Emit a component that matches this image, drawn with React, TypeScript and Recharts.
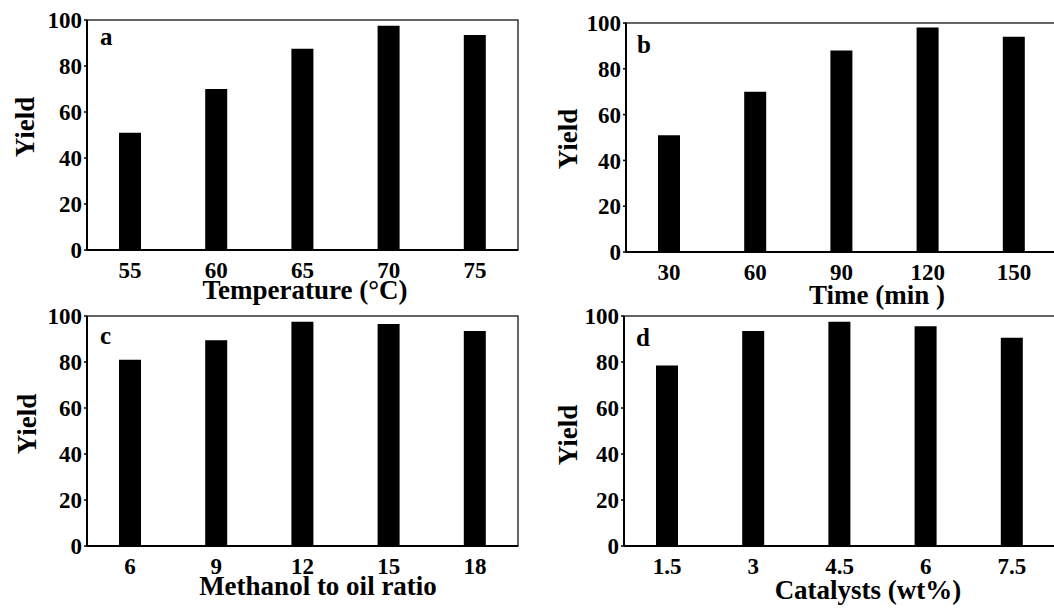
import React from 'react';
import { Bar, BarChart, ReferenceArea, XAxis, YAxis } from 'recharts';

const temperatures = ['55', '60', '65', '70', '75'];
const tempYield = [51, 70, 87.5, 97.5, 93.5];

const times = ['30', '60', '90', '120', '150'];
const timeYield = [51, 70, 88, 98, 94];

const ratios = ['6', '9', '12', '15', '18'];
const ratioYield = [81, 89.5, 97.5, 96.5, 93.5];

const catalysts = ['1.5', '3', '4.5', '6', '7.5'];
const catalystYield = [78.5, 93.5, 97.5, 95.5, 90.5];

const yTicks = [0, 20, 40, 60, 80, 100];

const FONT = '"Liberation Serif", "Times New Roman", serif';

type PanelProps = {
  cats: string[];
  values: number[];
  letter: string;
  title: string;
  left: number;
  top: number;
  width: number;
  height: number;
  margin: { top: number; right: number; left: number; bottom: number };
  yAxisWidth: number;
  xAxisHeight: number;
  yLabel: { x: number; y: number };
  xLabel: { x: number; y: number };
  letterPos: { dx: number; dy: number };
};

const Panel: React.FC<PanelProps> = (p) => {
  const data = p.cats.map((c, i) => ({ cat: c, y: p.values[i] }));
  return (
    <div style={{ position: 'absolute', left: p.left, top: p.top }}>
      <BarChart width={p.width} height={p.height} data={data} margin={p.margin}>
        <ReferenceArea
          y1={0}
          y2={100}
          fill="none"
          fillOpacity={0}
          stroke="#333"
          strokeWidth={1.5}
          label={(lp: any) => {
            const vb = lp.viewBox || { x: 0, y: 0 };
            return (
              <text x={vb.x + p.letterPos.dx} y={vb.y + p.letterPos.dy} fontFamily={FONT} fontWeight={700} fontSize={25} fill="#000">
                {p.letter}
              </text>
            );
          }}
        />
        <XAxis
          dataKey="cat"
          interval={0}
          height={p.xAxisHeight}
          tickSize={0}
          tickLine={false}
          tickMargin={12}
          axisLine={{ stroke: '#000', strokeWidth: 2 }}
          tick={{ fill: '#000', fontSize: 23, fontWeight: 700, fontFamily: FONT }}
          label={() => (
            <text x={p.xLabel.x} y={p.xLabel.y} textAnchor="middle" fontFamily={FONT} fontWeight={700} fontSize={27} fill="#000">
              {p.title}
            </text>
          )}
        />
        <YAxis
          domain={[0, 100]}
          ticks={yTicks}
          width={p.yAxisWidth}
          tickSize={3}
          tickMargin={2}
          tickLine={{ stroke: '#000', strokeWidth: 1.5 }}
          axisLine={{ stroke: '#000', strokeWidth: 2 }}
          tick={{ fill: '#000', fontSize: 23, fontWeight: 700, fontFamily: FONT }}
          label={() => (
            <text
              x={p.yLabel.x}
              y={p.yLabel.y}
              transform={`rotate(-90, ${p.yLabel.x}, ${p.yLabel.y})`}
              textAnchor="middle"
              fontFamily={FONT}
              fontWeight={700}
              fontSize={27}
              fill="#000"
            >
              Yield
            </text>
          )}
        />
        <Bar dataKey="y" fill="#000" barSize={22} isAnimationActive={false} />
      </BarChart>
    </div>
  );
};

export default function App() {
  return (
    <div style={{ position: 'absolute', left: 0, top: 0, width: 1054, height: 609, overflow: 'hidden', background: '#fff' }}>
      <Panel
        cats={temperatures}
        values={tempYield}
        letter="a"
        title="Temperature (°C)"
        left={0}
        top={0}
        width={530}
        height={315}
        margin={{ top: 20, right: 12, left: 0, bottom: 0 }}
        yAxisWidth={87}
        xAxisHeight={65}
        yLabel={{ x: 34, y: 127 }}
        xLabel={{ x: 305, y: 299 }}
        letterPos={{ dx: 13, dy: 25 }}
      />
      <Panel
        cats={times}
        values={timeYield}
        letter="b"
        title="Time (min )"
        left={524}
        top={0}
        width={540}
        height={315}
        margin={{ top: 23, right: 7, left: 0, bottom: 0 }}
        yAxisWidth={102}
        xAxisHeight={63}
        yLabel={{ x: 53, y: 139 }}
        xLabel={{ x: 353, y: 304 }}
        letterPos={{ dx: 11, dy: 30 }}
      />
      <Panel
        cats={ratios}
        values={ratioYield}
        letter="c"
        title="Methanol to oil ratio"
        left={0}
        top={300}
        width={530}
        height={309}
        margin={{ top: 16, right: 12, left: 0, bottom: 0 }}
        yAxisWidth={87}
        xAxisHeight={63}
        yLabel={{ x: 36, y: 124 }}
        xLabel={{ x: 318, y: 295 }}
        letterPos={{ dx: 13, dy: 28 }}
      />
      <Panel
        cats={catalysts}
        values={catalystYield}
        letter="d"
        title="Catalysts (wt%)"
        left={524}
        top={300}
        width={540}
        height={309}
        margin={{ top: 16, right: 9, left: 0, bottom: 0 }}
        yAxisWidth={100}
        xAxisHeight={63}
        yLabel={{ x: 53, y: 135 }}
        xLabel={{ x: 344, y: 299 }}
        letterPos={{ dx: 12, dy: 30 }}
      />
    </div>
  );
}
